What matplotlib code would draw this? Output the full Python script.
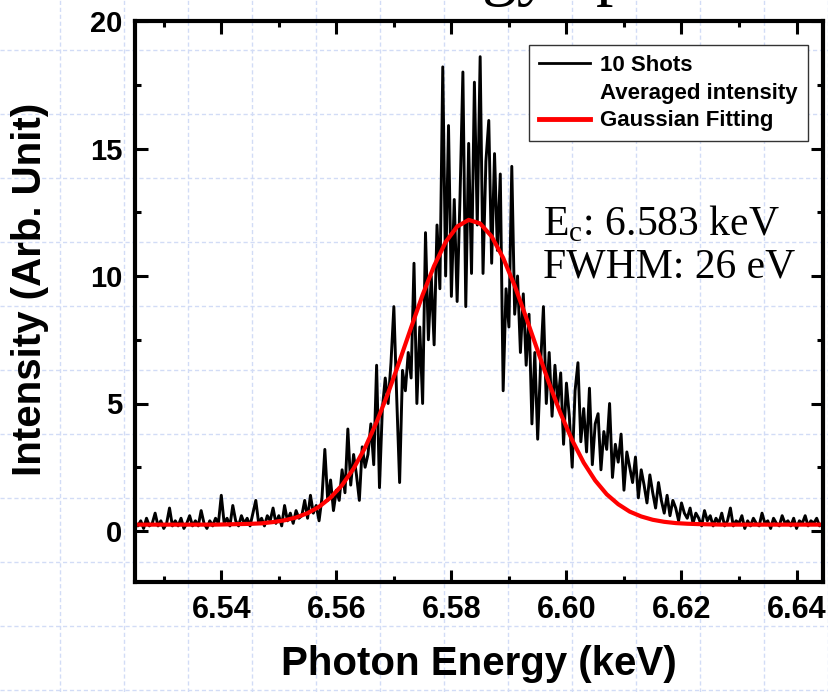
import numpy as np
import matplotlib.pyplot as plt
from matplotlib.lines import Line2D
from matplotlib.ticker import MultipleLocator

# measured spectrum (10 shots averaged), 0.5 eV per point from 6.525 keV
e_start = 6.525
e_step = 0.0005
intensity = [
    0.3, 0.2, 0.4, 0.1, 0.5, 0.2, 0.3, 0.7, 0.2, 0.4,
    0.1, 0.3, 0.9, 0.2, 0.4, 0.2, 0.5, 0.1, 0.3, 0.6,
    0.2, 0.4, 0.2, 0.8, 0.3, 0.1, 0.4, 0.2, 0.5, 0.3,
    1.4, 0.3, 0.5, 0.2, 1.0, 0.4, 0.2, 0.6, 0.3, 0.5,
    0.2, 0.7, 1.2, 0.3, 0.5, 0.2, 0.6, 0.4, 0.9, 0.3,
    0.6, 0.2, 1.0, 0.4, 0.7, 0.3, 0.8, 0.5,
    0.6, 1.2, 0.5, 1.4, 0.7, 1.0, 0.4, 1.3, 3.2, 1.2, 2.0, 0.8, 1.6,
    1.2, 2.4, 1.5, 4.0, 1.8, 3.0, 2.2, 1.2, 3.3, 2.5,
    3.0, 4.2, 2.6, 6.5, 1.7, 4.8, 6.0, 5.0,
    6.6, 8.8, 5.2, 1.9, 6.3, 5.5, 7.0, 6.0, 10.5, 5.0, 8.0, 5.0,
    11.7, 7.5, 10.0, 7.3, 12.0, 9.5, 18.2, 10.0, 15.9, 9.2,
    13.0, 9.0, 13.1, 18.0, 8.8, 15.2, 10.1, 17.6, 12.0, 18.6,
    10.1, 14.5, 16.1, 10.5, 14.8, 11.0, 14.0, 5.5, 9.5, 8.0,
    14.3, 8.5, 10.0, 7.0, 9.3, 6.5, 8.5, 4.2, 7.0, 3.6,
    6.5, 8.8, 5.0, 7.0, 4.5, 6.5, 5.0, 6.2, 3.4, 5.8,
    4.5, 2.5, 5.5, 6.6, 3.5,
    4.8, 3.1, 5.6, 2.6, 4.2, 4.6, 2.4, 3.9, 3.2, 5.0,
    2.1, 3.4, 2.7, 3.8, 1.6, 3.1, 2.5, 1.9, 2.9, 1.3,
    2.4, 1.8, 1.1, 2.2, 1.5, 0.9, 1.9, 1.2, 0.7, 1.4,
    0.6, 1.2, 0.9, 0.4, 1.1, 0.7, 0.5, 0.9, 0.3, 0.7,
    0.5, 0.2, 0.8, 0.4, 0.6, 0.2, 0.5, 0.3, 0.7, 0.2,
    0.4, 0.9, 0.2, 0.4, 0.3, 0.6, 0.1, 0.4, 0.2, 0.5,
    0.3, 0.2, 0.7, 0.3, 0.4, 0.1, 0.5, 0.3, 0.2, 0.6,
    0.3, 0.4, 0.2, 0.5, 0.1, 0.4, 0.3, 0.6, 0.2, 0.4,
    0.3, 0.5, 0.2, 0.3,
]

# gaussian fit curve, read every 2 eV
fit_start = 6.525
fit_step = 0.002
fit_intensity = [
    0.25, 0.25, 0.25, 0.25, 0.25, 0.25, 0.25, 0.25, 0.26, 0.27,
    0.28, 0.30, 0.35, 0.42, 0.53, 0.70, 0.95, 1.31, 1.80, 2.45,
    3.27, 4.27, 5.41, 6.67, 7.98, 9.26, 10.40, 11.33, 11.94, 12.20,
    12.06, 11.55, 10.71, 9.62, 8.37, 7.07, 5.78, 4.60, 3.56, 2.68,
    1.98, 1.44, 1.05, 0.76, 0.57, 0.44, 0.36, 0.31, 0.285, 0.27,
    0.26, 0.25, 0.25, 0.25, 0.25, 0.25, 0.25, 0.25, 0.25, 0.25, 0.25,
]

xticks = [6.54, 6.56, 6.58, 6.60, 6.62, 6.64]
yticks = [0, 5, 10, 15, 20]

energy = e_start + e_step * np.arange(len(intensity))
fit_energy = fit_start + fit_step * np.arange(len(fit_intensity))

plt.rcParams['font.family'] = 'Liberation Sans'
plt.rcParams['font.weight'] = 'bold'

W, H = 829, 692
fig = plt.figure(figsize=(W / 100, H / 100), dpi=100)

# slide background: light blue dashed grid
bg = fig.add_axes([0, 0, 1, 1], zorder=-1)
bg.set_xlim(0, W)
bg.set_ylim(H, 0)
bg.axis('off')
for gx in range(60, W, 64):
    bg.axvline(gx, color='#d2dcf6', lw=1, ls=(0, (3, 2)))
for gy in range(50, H, 64):
    bg.axhline(gy, color='#d2dcf6', lw=1, ls=(0, (3, 2)))

# slide title, mostly cut off at the top
fig.text(352 / W, 1 + 8 / H, 'Energy spectrum', family='Liberation Serif',
         fontweight='normal', fontsize=50, va='baseline', ha='left')

ax = fig.add_axes([135 / W, (H - 582) / H, 688 / W, 561 / H])
ax.set_facecolor('none')

ax.plot(energy, intensity, color='black', lw=2.1)
ax.plot(fit_energy, fit_intensity, color='#ff0000', lw=3)

ax.set_xlim(6.525, 6.6446)
ax.set_ylim(-2, 20)
ax.set_xticks(xticks)
ax.set_xticklabels([f'{v:.2f}' for v in xticks])
ax.set_yticks(yticks)
ax.xaxis.set_minor_locator(MultipleLocator(0.01))
ax.yaxis.set_minor_locator(MultipleLocator(2.5))
ax.tick_params(which='both', direction='in', top=True, right=True, width=2.2)
ax.tick_params(which='major', length=9)
ax.tick_params(which='minor', length=4.5)
ax.tick_params(axis='x', labelsize=22, pad=9)
ax.tick_params(axis='y', labelsize=21, pad=9)
for s in ax.spines.values():
    s.set_linewidth(3)

ax.set_xlabel('Photon Energy (keV)', fontsize=29, fontweight='bold')
ax.xaxis.set_label_coords(0.5, -0.112)
ax.xaxis.label.set_va('top')
ax.set_ylabel('Intensity (Arb. Unit)', fontsize=29, fontweight='bold')
ax.yaxis.set_label_coords(-0.152, 0.522)
ax.yaxis.label.set_va('center')

handles = [
    Line2D([], [], color='black', lw=2),
    Line2D([], [], color='none'),
    Line2D([], [], color='#ff0000', lw=3.5),
]
labels = ['10 Shots', 'Averaged intensity', 'Gaussian Fitting']
leg = ax.legend(handles, labels, loc='upper right', bbox_to_anchor=(0.978, 0.957),
                borderaxespad=0, fancybox=False, framealpha=1, edgecolor='#333333',
                prop={'size': 16, 'weight': 'bold'}, handlelength=2.3,
                handletextpad=0.45, labelspacing=0.3, borderpad=0.45)
leg.get_frame().set_linewidth(1)

serif = dict(family='Liberation Serif', fontweight='normal', fontsize=30, va='baseline')
fig.text(543 / W, 1 - 235 / H, r'E$_\mathregular{c}$: 6.583 keV', **serif)
fig.text(543 / W, 1 - 277 / H, 'FWHM: 26 eV', **serif)

fig.savefig('out.png', dpi=100)
